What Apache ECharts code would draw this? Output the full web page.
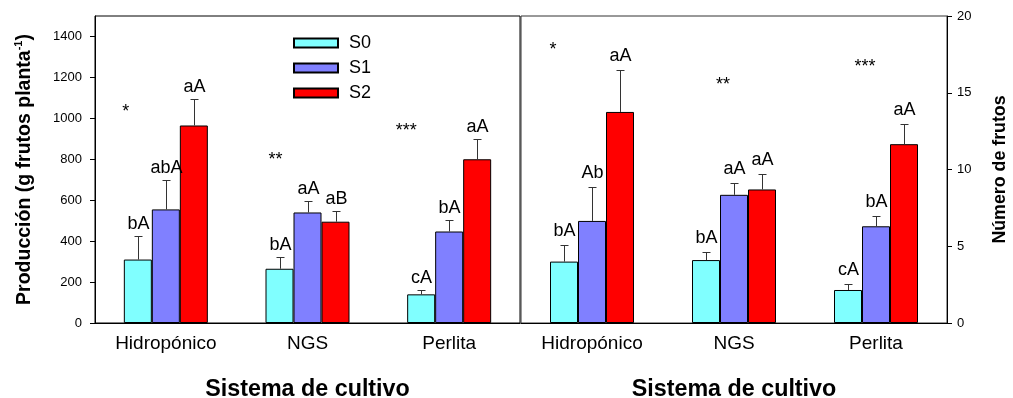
<!DOCTYPE html>
<html>
<head>
<meta charset="utf-8">
<script src="https://cdn.jsdelivr.net/npm/echarts@6/dist/echarts.min.js"></script>
<style>
html,body{margin:0;padding:0;background:#fff;}
#chart{width:1013px;height:398px;}
</style>
</head>
<body>
<div id="chart"></div>
<script>
// ---------- data ----------
const categories = ['Hidropónico', 'NGS', 'Perlita'];
const seriesNames = ['S0', 'S1', 'S2'];

// Left panel: Producción (g frutos planta-1)
const prodS0 = [310, 265, 140];
const prodS1 = [555, 540, 447];
const prodS2 = [965, 495, 800];
const prodErrS0 = [115, 57, 22];
const prodErrS1 = [145, 58, 54];
const prodErrS2 = [130, 53, 100];
const prodLetS0 = ['bA', 'bA', 'cA'];
const prodLetS1 = ['abA', 'aA', 'bA'];
const prodLetS2 = ['aA', 'aB', 'aA'];
const prodSigText = ['*', '**', '***'];
const prodSigValue = [1051, 817, 961];

// Right panel: Número de frutos
const frutS0 = [4.0, 4.1, 2.15];
const frutS1 = [6.65, 8.35, 6.3];
const frutS2 = [13.75, 8.7, 11.65];
const frutErrS0 = [1.1, 0.52, 0.37];
const frutErrS1 = [2.2, 0.78, 0.64];
const frutErrS2 = [2.7, 0.98, 1.33];
const frutLetS0 = ['bA', 'bA', 'cA'];
const frutLetS1 = ['Ab', 'aA', 'bA'];
const frutLetS2 = ['aA', 'aA', 'aA'];
const frutSigText = ['*', '**', '***'];
const frutSigValue = [18.1, 15.8, 17.0];

// axis ranges / ticks
const prodMax = 1500, prodInterval = 200;
const frutMax = 20, frutInterval = 5;

// ---------- styling ----------
const FONT = '"Liberation Sans", Arial, sans-serif';
const colors = ['#80FFFF', '#8080FF', '#FF0000'];
const BAR_W = 28;
const sigDx = [[-40, -32, -43], [-39, -11, -11]];
const letterLift = [3.5, 5.5];

const panels = [
  {vals: [prodS0, prodS1, prodS2], errs: [prodErrS0, prodErrS1, prodErrS2],
   lets: [prodLetS0, prodLetS1, prodLetS2], sigT: prodSigText, sigV: prodSigValue},
  {vals: [frutS0, frutS1, frutS2], errs: [frutErrS0, frutErrS1, frutErrS2],
   lets: [frutLetS0, frutLetS1, frutLetS2], sigT: frutSigText, sigV: frutSigValue}
];

const series = [];
panels.forEach((p, pi) => {
  // bars
  seriesNames.forEach((nm, si) => {
    series.push({
      type: 'bar', name: nm, xAxisIndex: pi, yAxisIndex: pi,
      data: p.vals[si], barWidth: BAR_W, barGap: '0%',
      itemStyle: {color: colors[si], borderColor: '#000', borderWidth: 1},
      emphasis: {disabled: true}, z: 2
    });
  });
  // error bars + letters
  const ebData = [];
  seriesNames.forEach((nm, si) => {
    categories.forEach((c, ci) => {
      ebData.push([ci, p.vals[si][ci], p.errs[si][ci], si, p.lets[si][ci]]);
    });
  });
  series.push({
    type: 'custom', xAxisIndex: pi, yAxisIndex: pi, z: 5, silent: true,
    data: ebData,
    renderItem: function (params, api) {
      const ci = api.value(0), v = api.value(1), e = api.value(2), si = api.value(3);
      const lab = ebData[params.dataIndex][4];
      const base = api.coord([ci, v]);
      const top = api.coord([ci, v + e]);
      const x = Math.round(base[0] + (si - 1) * BAR_W) + 0.5;
      const y0 = base[1], y1 = Math.round(top[1]) + 0.5;
      return {
        type: 'group',
        children: [
          {type: 'line', shape: {x1: x, y1: y0, x2: x, y2: y1}, style: {stroke: '#333', lineWidth: 1}},
          {type: 'line', shape: {x1: x - 4, y1: y1, x2: x + 4, y2: y1}, style: {stroke: '#333', lineWidth: 1}},
          {type: 'text', x: x, y: y1 - letterLift[pi],
           style: {text: lab, fill: '#000', font: '18px ' + FONT, textAlign: 'center', textVerticalAlign: 'bottom'}}
        ]
      };
    }
  });
  // significance asterisks
  const sgData = categories.map((c, ci) => [ci, p.sigV[ci], ci]);
  series.push({
    type: 'custom', xAxisIndex: pi, yAxisIndex: pi, z: 5, silent: true,
    data: sgData,
    renderItem: function (params, api) {
      const ci = api.value(0), v = api.value(1);
      const pt = api.coord([ci, v]);
      return {
        type: 'text', x: pt[0] + sigDx[pi][ci], y: pt[1] + 4.5,
        style: {text: p.sigT[ci], fill: '#000', font: '18px ' + FONT, textAlign: 'center', textVerticalAlign: 'middle'}
      };
    }
  });
});

const xAxisCommon = (gi) => ({
  type: 'category', gridIndex: gi, data: categories,
  axisTick: {show: false},
  axisLine: {lineStyle: {color: '#000', width: 1}},
  axisLabel: {fontSize: 19, fontFamily: FONT, color: '#000', margin: 11},
  name: 'Sistema de cultivo', nameLocation: 'middle', nameGap: 55,
  nameTextStyle: {fontSize: 23.3, fontWeight: 'bold', fontFamily: FONT, color: '#000'}
});

const option = {
  backgroundColor: '#fff',
  animation: false,
  legend: {
    data: seriesNames, orient: 'vertical', left: 288, top: 28,
    itemWidth: 44, itemHeight: 9, itemGap: 5, icon: 'rect',
    selectedMode: false,
    textStyle: {fontSize: 18, fontFamily: FONT, color: '#000', lineHeight: 20, padding: [0, 0, 0, 6]}
  },
  grid: [
    {left: 95, top: 16, width: 425, height: 307, show: true, borderColor: '#000', borderWidth: 1,
     backgroundColor: 'transparent', containLabel: false, outerBoundsMode: 'none'},
    {left: 521, top: 16, width: 426, height: 307, show: true, borderColor: '#333', borderWidth: 1,
     backgroundColor: 'transparent', containLabel: false, outerBoundsMode: 'none'}
  ],
  xAxis: [xAxisCommon(0), xAxisCommon(1)],
  yAxis: [
    {
      type: 'value', gridIndex: 0, min: 0, max: prodMax, interval: prodInterval,
      splitLine: {show: false},
      axisLine: {show: true, lineStyle: {color: '#000'}},
      axisTick: {show: true, length: 5, lineStyle: {color: '#000'}},
      axisLabel: {fontSize: 13, fontFamily: FONT, color: '#000', margin: 13, showMaxLabel: false,
        formatter: v => (v % prodInterval === 0 ? String(v) : '')},
      name: '{a|Producción (g frutos planta}{s|-1}{a|)}',
      nameLocation: 'middle', nameGap: 60, nameRotate: 90,
      nameTextStyle: {
        rich: {
          a: {fontSize: 19.5, fontWeight: 'bold', fontFamily: FONT, color: '#000', lineHeight: 22, verticalAlign: 'bottom'},
          s: {fontSize: 11, fontWeight: 'bold', fontFamily: FONT, color: '#000', lineHeight: 22, verticalAlign: 'top'}
        }
      }
    },
    {
      type: 'value', gridIndex: 1, position: 'right', min: 0, max: frutMax, interval: frutInterval,
      splitLine: {show: false},
      axisLine: {show: true, lineStyle: {color: '#000'}},
      axisTick: {show: true, length: 5, lineStyle: {color: '#000'}},
      axisLabel: {fontSize: 13, fontFamily: FONT, color: '#000', margin: 10},
      name: 'Número de frutos', nameLocation: 'middle', nameGap: 44, nameRotate: 90,
      nameTextStyle: {fontSize: 17.8, fontWeight: 'bold', fontFamily: FONT, color: '#000'}
    }
  ],
  series: series
};

const chart = echarts.init(document.getElementById('chart'), null, {renderer: 'canvas'});
chart.setOption(option);
</script>
</body>
</html>
